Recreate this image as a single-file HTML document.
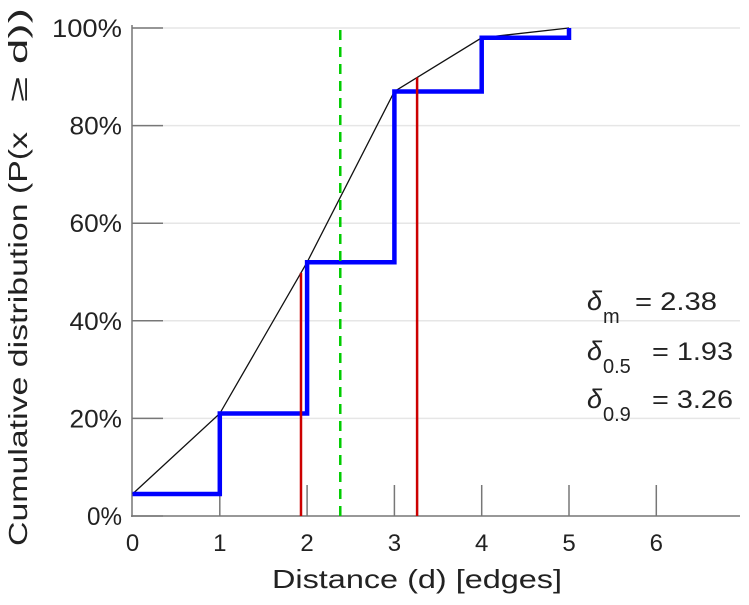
<!DOCTYPE html>
<html><head><meta charset="utf-8"><style>
body{margin:0;background:#fff}
svg text{font-family:"Liberation Sans",sans-serif;fill:#222}
</style></head><body>
<svg width="749" height="600" id="c">
<g id="grid"></g>
<g id="axes"></g>
<g id="marks"></g>
<text transform="translate(27,546) rotate(-90)" font-size="26" textLength="414" lengthAdjust="spacingAndGlyphs">Cumulative distribution (P(x</text>
<text transform="translate(27,102) rotate(-90)" font-size="26" textLength="94" lengthAdjust="spacingAndGlyphs">≥ d))</text>
<text x="272" y="588" font-size="26" textLength="290" lengthAdjust="spacingAndGlyphs">Distance (d) [edges]</text>
<g font-size="25">
<text x="587" y="310" font-style="italic" font-family="Liberation Serif" font-size="27">δ</text>
<text x="603" y="323" font-size="20">m</text>
<text x="635" y="310" textLength="82" lengthAdjust="spacingAndGlyphs">= 2.38</text>
<text x="587" y="360" font-style="italic" font-family="Liberation Serif" font-size="27">δ</text>
<text x="603" y="373" font-size="20">0.5</text>
<text x="652" y="360" textLength="81" lengthAdjust="spacingAndGlyphs">= 1.93</text>
<text x="587" y="408" font-style="italic" font-family="Liberation Serif" font-size="27">δ</text>
<text x="603" y="421" font-size="20">0.9</text>
<text x="652" y="408" textLength="81" lengthAdjust="spacingAndGlyphs">= 3.26</text>
</g>
</svg>
<script>
const distances=[0,1,2,3,4,5];
const cdfValues=[4.5,21,52,87,98,100];
const xTicks=[0,1,2,3,4,5,6];
const yTicks=[0,20,40,60,80,100];
const deltaM=2.38, delta05=1.93, delta09=3.26;
const ns="http://www.w3.org/2000/svg";
const X=v=>132.5+v*87.3, Y=v=>516-v*4.88;
function mk(p,t,a){const e=document.createElementNS(ns,t);for(const k in a)e.setAttribute(k,a[k]);document.getElementById(p).appendChild(e);return e;}
yTicks.forEach(t=>{
 if(t>0){const g=mk('grid','line',{x1:132,x2:740,y1:Y(t),y2:Y(t),stroke:'#e6e6e6','stroke-width':1.5});
 
 }
 const k=mk('axes','line',{x1:132,x2:163,y1:Y(t),y2:Y(t),stroke:'#777','stroke-width':1.5});
 
 
 const s=String(t)+'%';
 const l=mk('axes','text',{x:122,y:Y(t)+9,'font-size':25,'text-anchor':'end',textLength:s.length*17.5,lengthAdjust:'spacingAndGlyphs'});l.textContent=s;
 
 
});
xTicks.forEach(t=>{
 if(t>0){const k=mk('axes','line',{x1:X(t),x2:X(t),y1:516,y2:485,stroke:'#777','stroke-width':1.5});
 
 }
 const l=mk('axes','text',{x:X(t),y:551,'font-size':24,'text-anchor':'middle'});l.textContent=t;
 
 
});
let a=mk('axes','line',{x1:132,x2:132,y1:25,y2:517,stroke:'#777','stroke-width':1.5});


a=mk('axes','line',{x1:131,x2:740,y1:516,y2:516,stroke:'#777','stroke-width':1.5});


const lp=distances.map((d,i)=>X(d)+','+Y(cdfValues[i])).join(' ');
const bl=mk('marks','polyline',{points:lp,fill:'none',stroke:'#111','stroke-width':1.3});


let sp=[];
distances.forEach((d,i)=>{ if(i>0) sp.push(X(d)+','+Y(cdfValues[i-1])); sp.push(X(d)+','+Y(cdfValues[i])); });
const st=mk('marks','polyline',{points:sp.join(' '),fill:'none',stroke:'#0000ff','stroke-width':4.5});


function interp(x){for(let i=1;i<distances.length;i++){if(x<=distances[i]){const f=(x-distances[i-1])/(distances[i]-distances[i-1]);return cdfValues[i-1]+f*(cdfValues[i]-cdfValues[i-1]);}}return 100;}
[delta05,delta09].forEach((d,i)=>{const r=mk('marks','line',{x1:X(d),x2:X(d),y1:516,y2:Y(interp(d)),stroke:'#cc0000','stroke-width':2.5});
 
 });
const g=mk('marks','line',{x1:X(deltaM),x2:X(deltaM),y1:516,y2:Y(100),stroke:'#00cc00','stroke-width':2.5,'stroke-dasharray':'10,7'});


</script>
</body></html>
